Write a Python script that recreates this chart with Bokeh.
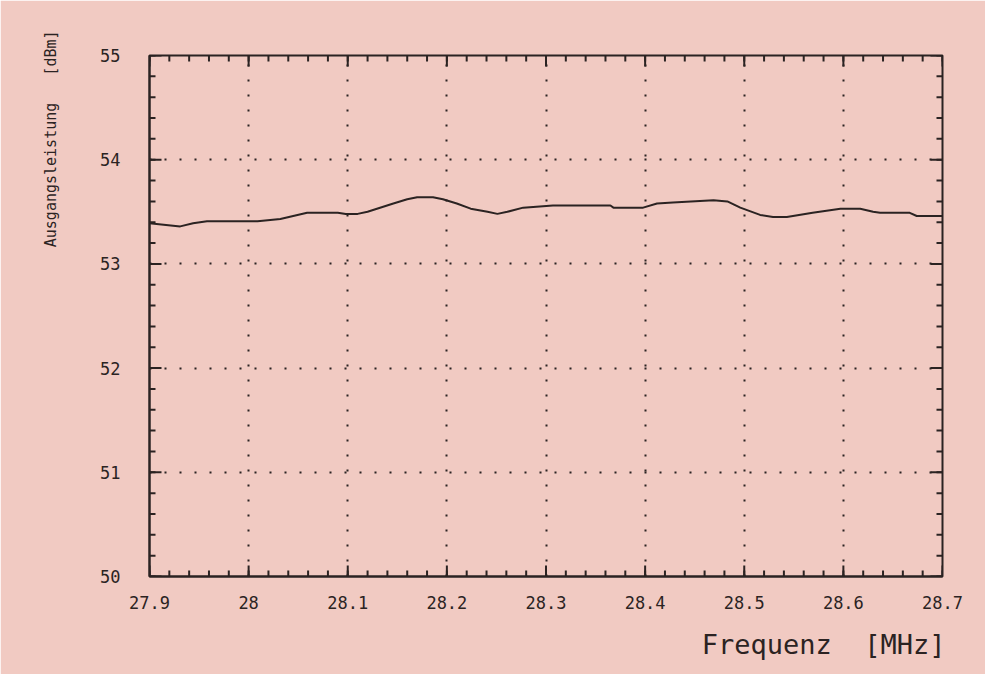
import numpy as np
from bokeh.plotting import figure
from bokeh.models import (FixedTicker, LinearAxis, Title, Range1d)
from bokeh.embed import file_html
from bokeh.resources import INLINE

# ---- data ----
freq_mhz = [27.900, 27.931, 27.944, 27.958, 28.009, 28.032, 28.059, 28.090,
            28.098, 28.110, 28.120, 28.146, 28.160, 28.170, 28.186, 28.196,
            28.210, 28.224, 28.241, 28.251, 28.261, 28.277, 28.307, 28.365,
            28.368, 28.398, 28.412, 28.428, 28.469, 28.483, 28.496, 28.516,
            28.529, 28.543, 28.569, 28.583, 28.597, 28.617, 28.630, 28.637,
            28.667, 28.674, 28.700]
power_dbm = [53.39, 53.36, 53.39, 53.41, 53.41, 53.43, 53.49, 53.49,
             53.48, 53.48, 53.50, 53.58, 53.62, 53.64, 53.64, 53.62,
             53.58, 53.53, 53.50, 53.48, 53.50, 53.54, 53.56, 53.56,
             53.54, 53.54, 53.58, 53.59, 53.61, 53.60, 53.54, 53.47,
             53.45, 53.45, 53.49, 53.51, 53.53, 53.53, 53.50, 53.49,
             53.49, 53.46, 53.46]

x_ticks = [27.9, 28.0, 28.1, 28.2, 28.3, 28.4, 28.5, 28.6, 28.7]
x_tick_labels = ["27.9", "28", "28.1", "28.2", "28.3", "28.4", "28.5", "28.6", "28.7"]
y_ticks = [50, 51, 52, 53, 54, 55]
y_tick_labels = ["50", "51", "52", "53", "54", "55"]

NB = "\u00a0"
x_label = "Frequenz" + NB * 2 + "[MHz]"
y_label = "Ausgangsleistung" + NB * 3 + "[dBm]"

# ---- styling ----
BG = "#f1cac2"
INK = "#2b2322"
FONT = "DejaVu Sans Mono"

x_minor = [round(v, 3) for v in np.arange(x_ticks[0], x_ticks[-1] + 1e-9, 0.02)]
y_minor = [round(v, 3) for v in np.arange(y_ticks[0], y_ticks[-1] + 1e-9, 0.2)]

p = figure(output_backend="svg", toolbar_location=None,
           frame_width=793, frame_height=521,
           min_border_left=149, min_border_top=55,
           min_border_right=43, min_border_bottom=97,
           x_range=Range1d(x_ticks[0], x_ticks[-1]),
           y_range=Range1d(y_ticks[0], y_ticks[-1]),
           x_axis_location=None, y_axis_location=None)

p.background_fill_color = BG
p.border_fill_color = BG
p.outline_line_color = INK
p.outline_line_width = 2


def style_axis(ax):
    ax.axis_line_color = INK
    ax.axis_line_width = 2
    ax.major_tick_line_color = None
    ax.minor_tick_line_color = None
    ax.major_tick_in = 0
    ax.major_tick_out = 0
    ax.minor_tick_in = 0
    ax.minor_tick_out = 0
    ax.major_label_text_font = FONT
    ax.major_label_text_color = INK
    ax.major_label_text_font_style = "normal"
    ax.major_label_text_font_size = "17px"


xt = FixedTicker(ticks=x_ticks, minor_ticks=x_minor)
yt = FixedTicker(ticks=y_ticks, minor_ticks=y_minor)

xb = LinearAxis(ticker=xt, major_label_overrides=dict(zip(x_ticks, x_tick_labels)))
style_axis(xb)
xb.major_label_standoff = 19
p.add_layout(xb, "below")

yl = LinearAxis(ticker=yt, major_label_overrides=dict(zip(y_ticks, y_tick_labels)))
style_axis(yl)
yl.major_label_standoff = 29
p.add_layout(yl, "left")

# dotted grid at major ticks
p.xgrid.ticker = xt
p.ygrid.ticker = yt
for g in (p.xgrid, p.ygrid):
    g.grid_line_color = INK
    g.grid_line_width = 2
    g.grid_line_dash = "2 13"

# inward tick marks on all four edges: dash markers centred on the frame edge,
# the outer half is clipped away by the frame
x0, x1 = x_ticks[0], x_ticks[-1]
y0, y1 = y_ticks[0], y_ticks[-1]
for xs, size in ((x_ticks, 22), (x_minor, 12)):
    for yy in (y0, y1):
        p.scatter(xs, [yy] * len(xs), marker="dash", size=size, angle=np.pi / 2,
                  line_color=INK, line_width=2)
for ys, size in ((y_ticks, 24), (y_minor, 12)):
    for xx in (x0, x1):
        p.scatter([xx] * len(ys), ys, marker="dash", size=size, angle=0,
                  line_color=INK, line_width=2)

p.line(freq_mhz, power_dbm, line_color=INK, line_width=2)

p.add_layout(Title(text=x_label, align="right", text_font=FONT,
                   text_font_size="27px", text_font_style="normal",
                   text_color=INK, standoff=30, offset=-3), "below")
p.add_layout(Title(text=y_label, align="right", text_font=FONT,
                   text_font_size="15px", text_font_style="normal",
                   text_color=INK, standoff=76, offset=-25), "left")

open("out.html", "w").write(file_html(p, INLINE))
